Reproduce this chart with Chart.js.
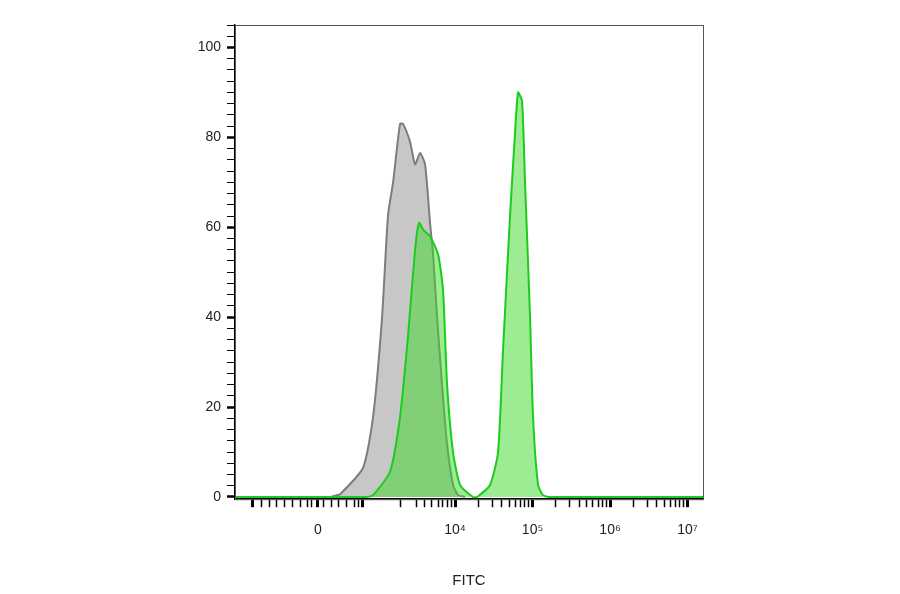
<!DOCTYPE html>
<html><head><meta charset="utf-8">
<script src="https://cdn.jsdelivr.net/npm/chart.js@4.4.7/dist/chart.umd.min.js"></script>
<style>html,body{margin:0;background:#fff}#wrap{width:900px;height:594px}</style>
</head><body><div id="wrap"><canvas id="c"></canvas></div>
<script>
// x in display decades (4 = 10^4), y = % of max
const grayX = [1.16, 2.40, 2.452, 2.516, 2.813, 2.942, 3.058, 3.135, 3.2, 3.29, 3.329, 3.419, 3.484, 3.548, 3.613, 3.677, 3.716, 3.768, 3.832, 3.897, 3.974, 4.039, 4.13];
const grayY = [0, 0, 0.3, 0.6, 6.5, 17.8, 40, 62.7, 70, 83, 83, 79, 74, 76.5, 74, 61, 54, 40, 25, 11.7, 2.7, 0.4, 0];
const greenX = [1.16, 2.84, 2.94, 3.161, 3.29, 3.394, 3.484, 3.535, 3.587, 3.677, 3.781, 3.845, 3.897, 3.974, 4.065, 4.232, 4.284, 4.452, 4.555, 4.619, 4.71, 4.774, 4.813, 4.865, 4.903, 4.968, 5.006, 5.071, 5.135, 5.226, 7.2];
const greenY = [0, 0, 0.4, 5.6, 17.8, 36, 55, 61, 59.5, 58, 54, 46, 25, 10, 2.7, 0, 0, 2.7, 10, 32.6, 62.7, 81, 90, 88, 70, 40, 18, 2.7, 0.4, 0, 0];
const xMajor = [1.39, 2.23, 2.81, 4, 5, 6, 7];
const xLabels = {2.23: '0', 4: '10⁴', 5: '10⁵', 6: '10⁶', 7: '10⁷'};
const xMinor = [1.5, 1.6, 1.7, 1.8, 1.9, 2.0, 2.1, 2.15, 2.3, 2.4, 2.5, 2.6, 2.7, 2.75,
  3.3, 3.5, 3.6, 3.7, 3.78, 3.84, 3.9, 3.95, 4.3, 4.48, 4.6, 4.7, 4.78, 4.85, 4.9, 4.95,
  5.3, 5.48, 5.6, 5.7, 5.78, 5.85, 5.9, 5.95, 6.3, 6.48, 6.6, 6.7, 6.78, 6.85, 6.9, 6.95];

const pts = (xs, ys) => xs.map((x, i) => ({x, y: ys[i]}));
const frame = {
  id: 'frame',
  afterDraw(ch) {
    const a = ch.chartArea, c = ch.ctx;
    c.save(); c.strokeStyle = '#555'; c.lineWidth = 1;
    c.strokeRect(a.left + 0.5, a.top + 0.5, a.width, a.height);
    c.restore();
  }
};
new Chart(document.getElementById('c'), {
  type: 'line',
  data: { datasets: [
    { data: pts(grayX, grayY), order: 2, borderColor: '#7d7d7d', backgroundColor: 'rgba(185,185,185,0.8)', borderWidth: 2, fill: 'origin', pointRadius: 0, tension: 0.2 },
    { data: pts(greenX, greenY), order: 1, borderColor: '#1ccc1c', backgroundColor: 'rgba(60,215,40,0.5)', borderWidth: 2, fill: 'origin', pointRadius: 0, tension: 0.2 }
  ]},
  options: {
    responsive: true, maintainAspectRatio: false, animation: false,
    layout: { padding: { top: 25, right: 197, bottom: 0, left: 0 } },
    plugins: { legend: { display: false }, tooltip: { enabled: false } },
    scales: {
      x: {
        type: 'linear', min: 1.16, max: 7.2,
        afterBuildTicks: s => { s.ticks = xMajor.concat(xMinor).map(v => ({value: v})); },
        grid: { drawOnChartArea: false, tickLength: 8, color: '#000',
          tickWidth: c => xMajor.includes(c.tick.value) ? 3 : 1.5 },
        border: { color: '#000', width: 1.5 },
        ticks: { autoSkip: false, maxRotation: 0, color: '#222', padding: 15,
          font: { family: 'Liberation Sans, Arial', size: 14 },
          callback: v => xLabels[v] || '' },
        title: { display: true, text: 'FITC', color: '#222', padding: { top: 18 },
          font: { family: 'Liberation Sans, Arial', size: 15 } }
      },
      y: {
        min: -0.5, max: 105,
        afterBuildTicks: s => { const t = []; for (let v = 0; v <= 105; v += 2.5) t.push({value: v}); s.ticks = t; },
        grid: { drawOnChartArea: false, tickLength: 8, color: '#000',
          tickWidth: c => c.tick.value % 20 === 0 ? 2.5 : 1 },
        border: { color: '#000', width: 1.5 },
        ticks: { autoSkip: false, color: '#222', padding: 6,
          font: { family: 'Liberation Sans, Arial', size: 14 },
          callback: v => v % 20 === 0 ? String(v) : '' },
        afterFit: s => { s.width = 235; }
      }
    }
  },
  plugins: [frame]
});
</script></body></html>
